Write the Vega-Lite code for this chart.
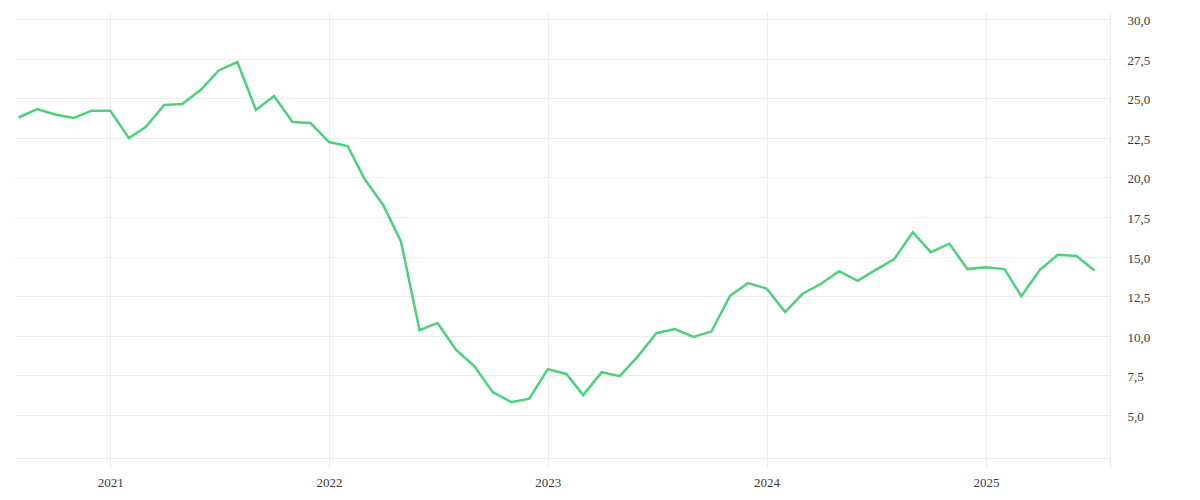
{
  "$schema": "https://vega.github.io/schema/vega-lite/v6.json",
  "autosize": {"type": "none"},
  "padding": {"left": 15, "top": 12, "right": 90, "bottom": 32},
  "width": 1095,
  "height": 456,
  "background": "white",
  "config": {
    "view": {"stroke": null},
    "axis": {
      "labelFont": "Liberation Serif, serif",
      "labelFontSize": 13,
      "labelColor": "#3a3a3a",
      "gridColor": "#ededed",
      "gridWidth": 1,
      "domainColor": "#ededed",
      "tickColor": "#ededed",
      "title": null
    }
  },
  "data": {
    "values": [
      {"date": "2020-08-01", "value": 23.78},
      {"date": "2020-09-01", "value": 24.31},
      {"date": "2020-10-01", "value": 23.97},
      {"date": "2020-11-01", "value": 23.75},
      {"date": "2020-12-01", "value": 24.21},
      {"date": "2021-01-01", "value": 24.21},
      {"date": "2021-02-01", "value": 22.48},
      {"date": "2021-03-01", "value": 23.18},
      {"date": "2021-04-01", "value": 24.57},
      {"date": "2021-05-01", "value": 24.63},
      {"date": "2021-06-01", "value": 25.53},
      {"date": "2021-07-01", "value": 26.75},
      {"date": "2021-08-01", "value": 27.28},
      {"date": "2021-09-01", "value": 24.25},
      {"date": "2021-10-01", "value": 25.14},
      {"date": "2021-11-01", "value": 23.49},
      {"date": "2021-12-01", "value": 23.43},
      {"date": "2022-01-01", "value": 22.23},
      {"date": "2022-02-01", "value": 21.98},
      {"date": "2022-03-01", "value": 19.91},
      {"date": "2022-04-01", "value": 18.27},
      {"date": "2022-05-01", "value": 15.95},
      {"date": "2022-06-01", "value": 10.35},
      {"date": "2022-07-01", "value": 10.8},
      {"date": "2022-08-01", "value": 9.11},
      {"date": "2022-09-01", "value": 8.05},
      {"date": "2022-10-01", "value": 6.44},
      {"date": "2022-11-01", "value": 5.81},
      {"date": "2022-12-01", "value": 6.03},
      {"date": "2023-01-01", "value": 7.89},
      {"date": "2023-02-01", "value": 7.59},
      {"date": "2023-03-01", "value": 6.25},
      {"date": "2023-04-01", "value": 7.7},
      {"date": "2023-05-01", "value": 7.45},
      {"date": "2023-06-01", "value": 8.73},
      {"date": "2023-07-01", "value": 10.16},
      {"date": "2023-08-01", "value": 10.42},
      {"date": "2023-09-01", "value": 9.93},
      {"date": "2023-10-01", "value": 10.27},
      {"date": "2023-11-01", "value": 12.52},
      {"date": "2023-12-01", "value": 13.32},
      {"date": "2024-01-01", "value": 12.98},
      {"date": "2024-02-01", "value": 11.49},
      {"date": "2024-03-01", "value": 12.65},
      {"date": "2024-04-01", "value": 13.28},
      {"date": "2024-05-01", "value": 14.08},
      {"date": "2024-06-01", "value": 13.47},
      {"date": "2024-07-01", "value": 14.16},
      {"date": "2024-08-01", "value": 14.84},
      {"date": "2024-09-01", "value": 16.54},
      {"date": "2024-10-01", "value": 15.28},
      {"date": "2024-11-01", "value": 15.81},
      {"date": "2024-12-01", "value": 14.21},
      {"date": "2025-01-01", "value": 14.33},
      {"date": "2025-02-01", "value": 14.21},
      {"date": "2025-03-01", "value": 12.5},
      {"date": "2025-04-01", "value": 14.16},
      {"date": "2025-05-01", "value": 15.11},
      {"date": "2025-06-01", "value": 15.03},
      {"date": "2025-07-01", "value": 14.12}
    ]
  },
  "mark": {"type": "line", "color": "#4fd07f", "strokeWidth": 2.5, "clip": true},
  "encoding": {
    "x": {
      "field": "date",
      "type": "temporal",
      "scale": {"domain": ["2020-07-26", "2025-07-27"]},
      "axis": {
        "offset": -10,
        "tickCount": {"interval": "year", "step": 1},
        "format": "%Y",
        "tickSize": 10,
        "labelPadding": 8,
        "labelFlush": false
      }
    },
    "y": {
      "field": "value",
      "type": "quantitative",
      "scale": {"domain": [1.65, 30.44], "nice": false, "zero": false},
      "axis": {
        "orient": "right",
        "domain": true,
        "values": [5, 7.5, 10, 12.5, 15, 17.5, 20, 22.5, 25, 27.5, 30],
        "ticks": false,
        "tickSize": 0,
        "labelPadding": 17,
        "labelOffset": 1.5,
        "labelExpr": "replace(format(datum.value, '.1f'), '.', ',')"
      }
    }
  }
}
